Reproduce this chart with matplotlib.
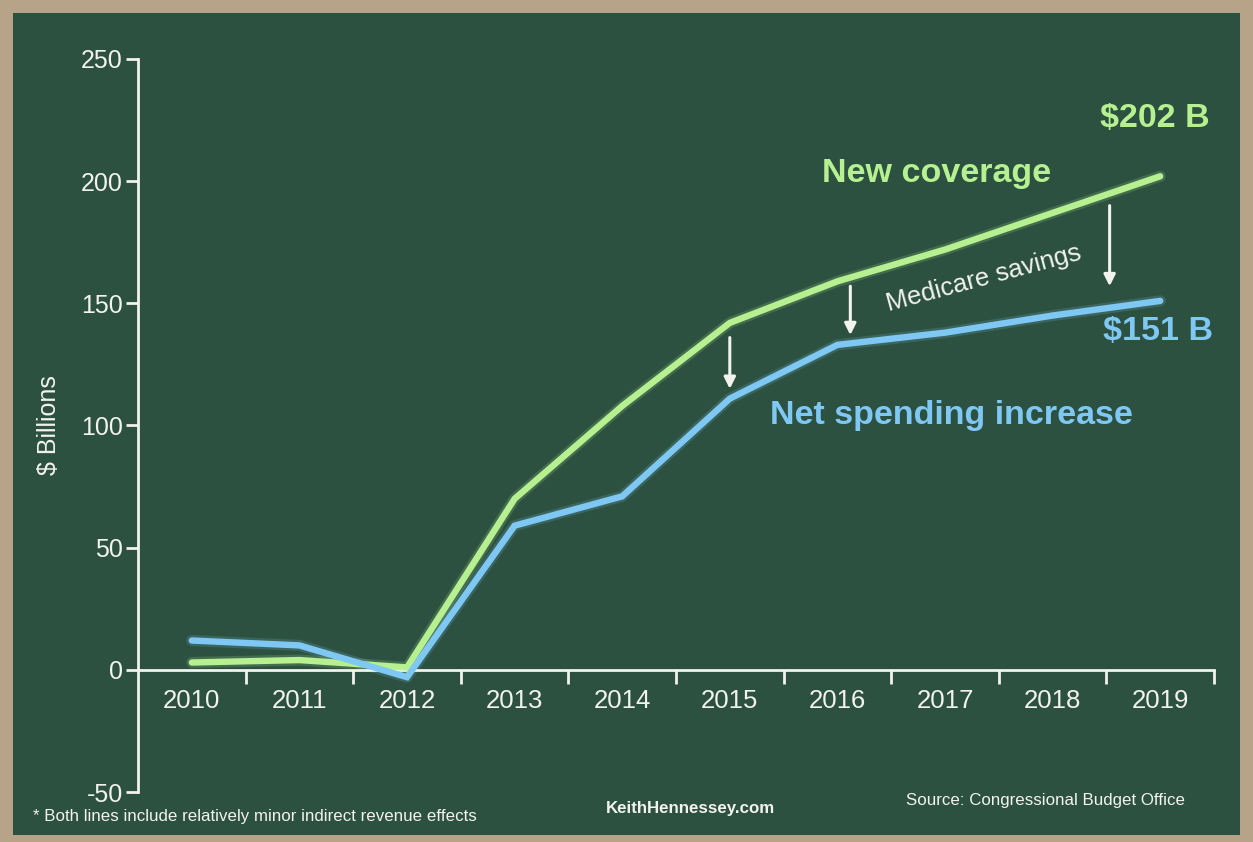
import matplotlib
matplotlib.use("Agg")
import matplotlib.pyplot as plt
from matplotlib.patches import Rectangle

plt.rcParams['font.family'] = ['Liberation Sans', 'DejaVu Sans']

years = [2010, 2011, 2012, 2013, 2014, 2015, 2016, 2017, 2018, 2019]
new_coverage = [3, 4, 1, 70, 108, 142, 159, 172, 187, 202]
net_spending = [12, 10, -3, 59, 71, 111, 133, 138, 145, 151]
yticks = [-50, 0, 50, 100, 150, 200, 250]

# Medicare savings arrows: (x, y_start, y_end)
arrow_x = [2015.0, 2016.12, 2018.53]
arrow_y0 = [136, 157, 190]
arrow_y1 = [115, 137, 157]

BOARD = '#2c5140'
TAN = '#b7a387'
GREEN = '#b6f090'
BLUE = '#80c8f4'
WHITE = '#f2f2ee'

W, H = 1253, 842
fig = plt.figure(figsize=(W / 100, H / 100), dpi=100, facecolor=TAN)
fig.patches.append(Rectangle((13 / W, (H - 835) / H), (1240 - 13) / W, (835 - 13) / H,
                             transform=fig.transFigure, facecolor=BOARD, edgecolor='none', zorder=-10))

ax = fig.add_axes([138 / W, 50 / H, (1214 - 138) / W, (792 - 59) / H])
ax.set_facecolor('none')
ax.set_zorder(1)
ax.set_xlim(2009.5, 2019.5)
ax.set_ylim(-50, 250)

for s in ['top', 'right']:
    ax.spines[s].set_visible(False)
ax.spines['left'].set_color(WHITE)
ax.spines['left'].set_linewidth(2)
ax.spines['bottom'].set_position(('data', 0))
ax.spines['bottom'].set_color(WHITE)
ax.spines['bottom'].set_linewidth(2)

ax.set_yticks(yticks)
ax.set_yticklabels([str(v) for v in yticks], fontsize=18, color=WHITE)
ax.tick_params(axis='y', direction='out', length=9, width=2, color=WHITE, pad=2)

ax.set_xticks(years)
ax.set_xticklabels([str(y) for y in years], fontsize=18.5, color=WHITE)
ax.tick_params(axis='x', which='major', length=0, pad=14)
ax.set_xticks([y + 0.5 for y in years], minor=True)
ax.tick_params(axis='x', which='minor', direction='out', length=10, width=2, color=WHITE)

ax.set_ylabel('$ Billions', fontsize=18, color=WHITE)
ax.yaxis.set_label_coords((61 - 138) / (1214 - 138), (792 - 425) / (792 - 59))

# soft glow underneath each line
ax.plot(years, new_coverage, color=GREEN, lw=8, alpha=0.18, solid_joinstyle='round',
        solid_capstyle='round', zorder=2)
ax.plot(years, net_spending, color=BLUE, lw=8, alpha=0.18, solid_joinstyle='round',
        solid_capstyle='round', zorder=2)
ax.plot(years, new_coverage, color=GREEN, lw=4.6, solid_joinstyle='miter',
        solid_capstyle='round', zorder=3)
ax.plot(years, net_spending, color=BLUE, lw=4.6, solid_joinstyle='miter',
        solid_capstyle='round', zorder=4)

for x, y0, y1 in zip(arrow_x, arrow_y0, arrow_y1):
    ax.annotate('', xy=(x, y1), xytext=(x, y0),
                arrowprops=dict(arrowstyle='-|>', color=WHITE, lw=2.2, mutation_scale=17,
                                shrinkA=0, shrinkB=0), zorder=5)

ax.text(2016.92, 203, 'New coverage', fontsize=24.5, fontweight='bold', color=GREEN,
        ha='center', va='center')
ax.text(2018.95, 225.5, '$202 B', fontsize=24.5, fontweight='bold', color=GREEN,
        ha='center', va='center')
ax.text(2018.98, 138.5, '$151 B', fontsize=24.5, fontweight='bold', color=BLUE,
        ha='center', va='center')
ax.text(2017.06, 104, 'Net spending increase', fontsize=24.5, fontweight='bold', color=BLUE,
        ha='center', va='center')
ax.text(2017.36, 160, 'Medicare savings', fontsize=18.5, color=WHITE,
        ha='center', va='center', rotation=15)

fig.text(33 / W, 1 - 816 / H, '* Both lines include relatively minor indirect revenue effects',
         fontsize=12.2, color=WHITE, ha='left', va='center')
fig.text(690 / W, 1 - 809 / H, 'KeithHennessey.com', fontsize=12.2, fontweight='bold',
         color=WHITE, ha='center', va='center')
fig.text(906 / W, 1 - 800 / H, 'Source: Congressional Budget Office', fontsize=12.2,
         color=WHITE, ha='left', va='center')

fig.savefig('out.png', dpi=100, facecolor=fig.get_facecolor())
